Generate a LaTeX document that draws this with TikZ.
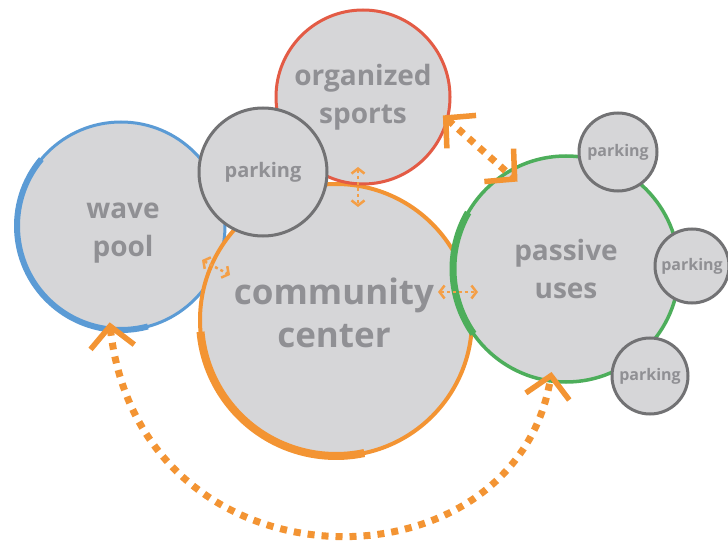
\documentclass[tikz,border=0pt]{standalone}
\usepackage{fontspec}
\setmainfont{Open Sans}
\usetikzlibrary{arrows.meta,calc}
\definecolor{fillg}{HTML}{D6D6D8}
\definecolor{txtg}{HTML}{909094}
\definecolor{orng}{HTML}{F39433}
\definecolor{blu}{HTML}{5B9BD5}
\definecolor{rd}{HTML}{E35B45}
\definecolor{grn}{HTML}{4DAE5B}
\definecolor{pkg}{HTML}{727274}
\begin{document}
\begin{tikzpicture}[x=1pt,y=1pt,
  zone/.style={circle, fill=fillg, text=txtg, align=center, inner sep=0pt, outer sep=0pt},
  bigtxt/.style={font=\fontsize{28}{38}\selectfont\bfseries},
  pktxt/.style={font=\fontsize{20}{24}\selectfont\bfseries},
  smpktxt/.style={font=\fontsize{16}{19}\selectfont\bfseries},
  lbl/.style={text=txtg, align=center, inner sep=0pt},
  bigarrow/.style={orng, line width=7pt, dash pattern=on 7pt off 7pt,
    {Straight Barb[length=21pt,width=44pt,line width=5.5pt]}-{Straight Barb[length=21pt,width=44pt,line width=5.5pt]}},
  smallarrow/.style={orng!90, line width=2.5pt, dash pattern=on 3pt off 3pt,
    {Straight Barb[length=5pt,width=13pt,line width=2.5pt]}-{Straight Barb[length=5pt,width=13pt,line width=2.5pt]}}
]
\useasboundingbox (0,0) rectangle (728,547);
\fill[white] (0,0) rectangle (728,547);
% wave pool
\node[zone, minimum size=208pt, draw=blu, line width=3pt] (wave) at (121,321) {};
\draw[blu, line width=6pt] (wave.140) arc[start angle=140, end angle=285, radius=104];
\node[lbl, bigtxt] (wavetext) at (123,314) {wave\\pool};
% community center
\node[zone, minimum size=272pt, draw=orng, line width=4pt] (comm) at (336,227) {};
\draw[orng, line width=8pt] (comm.185) arc[start angle=185, end angle=282, radius=136];
\node[lbl, font=\fontsize{35}{43}\selectfont\bfseries] (commtext) at (334,234) {community\\center};
% organized sports
\node[zone, bigtxt, minimum size=174pt, draw=rd, line width=3pt] (sports) at (363,450) {organized\\sports};
% parking near sports
\node[zone, pktxt, minimum size=128pt, draw=pkg, line width=3pt] (parkA) at (263,375) {parking};
% passive uses
\node[zone, bigtxt, minimum size=226pt, draw=grn, line width=3.5pt] (passive) at (566,278) {passive\\uses};
\draw[grn, line width=7pt] (passive.150) arc[start angle=150, end angle=215, radius=113];
% small parkings
\node[zone, smpktxt, minimum size=78pt, draw=pkg, line width=3pt] (parkB) at (618,395) {parking};
\node[zone, smpktxt, minimum size=74pt, draw=pkg, line width=3pt] (parkC) at (692,281) {parking};
\node[zone, smpktxt, minimum size=76pt, draw=pkg, line width=3pt] (parkD) at (650,171) {parking};
% big connectors
\coordinate (w1) at ($(wave.center)+(-96.7:97)$);
\coordinate (p1) at ($(passive.center)+(-98:104)$);
\draw[bigarrow] (w1) .. controls (140,-50) and (515,-50) .. (p1);
\coordinate (s1) at ($(sports.center)+(-13:82)$);
\coordinate (p2) at ($(passive.center)+(119:100)$);
\draw[bigarrow] (s1) -- (p2);
% small connectors
\coordinate (v1) at ($(sports.south)+(-5,17)$);
\coordinate (v2) at ($(sports.south)+(-5,-23)$);
\draw[smallarrow] (v1) -- (v2);
\coordinate (d1) at ($(wave.center)+(81,-34)$);
\coordinate (d2) at ($(wave.center)+(109,-49)$);
\draw[smallarrow] (d1) -- (d2);
\coordinate (h1) at ($(comm.center)+(102,28)$);
\coordinate (h2) at ($(comm.center)+(142,28)$);
\draw[smallarrow] (h1) -- (h2);
\end{tikzpicture}
\end{document}
